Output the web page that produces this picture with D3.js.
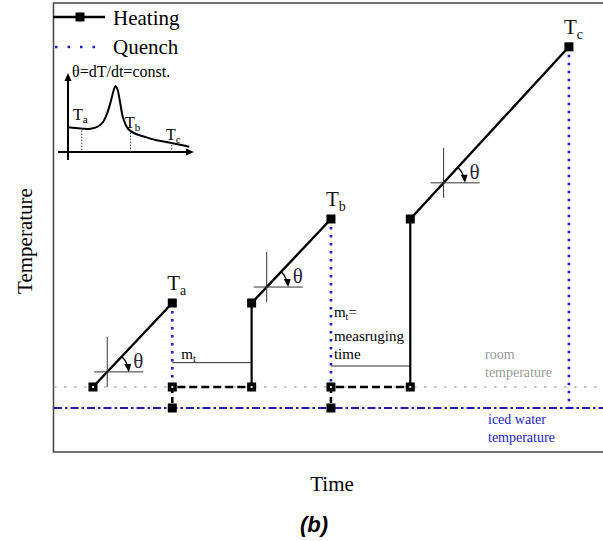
<!DOCTYPE html>
<html><head><meta charset="utf-8">
<script src="https://cdn.jsdelivr.net/npm/d3@7/dist/d3.min.js"></script>
<style>html,body{margin:0;padding:0;background:#fff;}svg{display:block;}</style>
</head><body>
<svg id="chart" width="603" height="541"></svg>
<script>
// ---- data ----
const heatStartT = [0.5, 2.5, 4.5];
const heatStartTemp = [25, 125, 225];
const heatEndT = [1.5, 3.5, 6.5];
const heatEndTemp = [125, 225, 430];
const peakNames = ["a", "b", "c"];
const roomTemp = 25;
const icedTemp = 0;
const mtLineTemp = [54, 50];
const crossFrac = [0.18, 0.19, 0.21];
// inset DSC-like curve
const insetT = [0, 6, 12, 18, 24, 28, 31, 34, 36.5, 38, 39.5, 41.5, 44, 48, 53, 60, 70, 83, 97];
const insetH = [33, 32, 31, 31, 34, 40, 50, 66, 82, 88, 84, 68, 46, 31, 25, 21, 16, 12, 7];
const insetMarks = [11, 50, 83];

const svg = d3.select("#chart");
const serif = "'Liberation Serif','Times New Roman',serif";
const x = d3.scaleLinear().domain([0, 7]).range([53.3, 608.6]);
const y = d3.scaleLinear().domain([0, 25]).range([408, 387]);

// frame
svg.append("rect").attr("x", 53.5).attr("y", 3).attr("width", 600).attr("height", 449)
  .attr("fill", "none").attr("stroke", "#444").attr("stroke-width", 1.5);

const line = (x1, y1, x2, y2) => svg.append("line").attr("x1", x1).attr("y1", y1).attr("x2", x2).attr("y2", y2);

// iced water line
line(54, y(icedTemp), 603, y(icedTemp)).attr("stroke", "#1c1cb0").attr("stroke-width", 2.2)
  .attr("stroke-dasharray", "8,3,2.5,3");
// room temperature line
line(54, y(roomTemp), 603, y(roomTemp)).attr("stroke", "#c4c4c4").attr("stroke-width", 2)
  .attr("stroke-dasharray", "2.5,7.5");

// thin mt lines
for (let i = 0; i < 2; i++) {
  line(x(heatEndT[i]), y(mtLineTemp[i]), x(heatStartT[i + 1]), y(mtLineTemp[i]))
    .attr("stroke", "#333").attr("stroke-width", 1);
}

// quench lines
for (let i = 0; i < 3; i++) {
  const bottom = i < 2 ? roomTemp : icedTemp;
  line(x(heatEndT[i]), y(heatEndTemp[i]), x(heatEndT[i]), y(bottom))
    .attr("stroke", "#1a1ad8").attr("stroke-width", 2.6).attr("stroke-dasharray", "2.5,5.5");
  if (i < 2) {
    line(x(heatEndT[i]), y(roomTemp), x(heatEndT[i]), y(icedTemp))
      .attr("stroke", "#000").attr("stroke-width", 2.5).attr("stroke-dasharray", "6,4");
  }
}
// waiting dashed + vertical reheat
for (let i = 0; i < 2; i++) {
  line(x(heatEndT[i]) + 5, y(roomTemp), x(heatStartT[i + 1]), y(roomTemp))
    .attr("stroke", "#000").attr("stroke-width", 2.6).attr("stroke-dasharray", "8,4");
  line(x(heatStartT[i + 1]), y(roomTemp), x(heatStartT[i + 1]), y(heatStartTemp[i + 1]))
    .attr("stroke", "#000").attr("stroke-width", 2.2);
}
// heating segments
for (let i = 0; i < 3; i++) {
  line(x(heatStartT[i]), y(heatStartTemp[i]), x(heatEndT[i]), y(heatEndTemp[i]))
    .attr("stroke", "#000").attr("stroke-width", 2.4);
}

// crosshairs with theta
for (let i = 0; i < 3; i++) {
  const f = crossFrac[i];
  const t = heatStartT[i] + f * (heatEndT[i] - heatStartT[i]);
  const T = heatStartTemp[i] + f * (heatEndTemp[i] - heatStartTemp[i]);
  const cx = x(t), cy = y(T);
  line(cx, cy - 35, cx, cy + 15).attr("stroke", "#333").attr("stroke-width", 1);
  line(cx - 13, cy, cx + 36, cy).attr("stroke", "#333").attr("stroke-width", 1);
  const ang = Math.atan2(y(heatStartTemp[i]) - y(heatEndTemp[i]), x(heatEndT[i]) - x(heatStartT[i]));
  const r = 21;
  const a0 = ang, a1 = 0.12;
  svg.append("path")
    .attr("d", `M${cx + r * Math.cos(a0)},${cy - r * Math.sin(a0)} A${r},${r} 0 0 1 ${cx + r * Math.cos(a1)},${cy - r * Math.sin(a1)}`)
    .attr("fill", "none").attr("stroke", "#000").attr("stroke-width", 1.4);
  const ex = cx + r, ey = cy;
  svg.append("path").attr("d", `M${ex - 4},${ey - 8} L${ex + 3},${ey - 8} L${ex + 0.5},${ey} Z`).attr("fill", "#000");
  svg.append("text").attr("x", cx + 26).attr("y", cy - 4).attr("font-family", serif)
    .attr("font-size", 21).attr("fill", "#2a2a3a").text("θ");
}

// markers
const marks = [];
for (let i = 0; i < 3; i++) {
  marks.push([heatStartT[i], heatStartTemp[i]], [heatEndT[i], heatEndTemp[i]]);
  if (i < 2) marks.push([heatEndT[i], roomTemp], [heatEndT[i], icedTemp], [heatStartT[i + 1], roomTemp]);
}
svg.selectAll("rect.mk").data(marks).join("rect").attr("class", "mk")
  .attr("x", d => x(d[0]) - 4.5).attr("y", d => y(d[1]) - 4.5).attr("width", 9).attr("height", 9).attr("fill", "#000");
// light centres where the room line passes over the squares
svg.selectAll("rect.mc").data(marks.filter(d => d[1] === roomTemp)).join("rect").attr("class", "mc")
  .attr("x", d => x(d[0]) - 1).attr("y", d => y(d[1]) - 1).attr("width", 2).attr("height", 2).attr("fill", "#ddd");

// peak labels
for (let i = 0; i < 3; i++) {
  const tx = svg.append("text").attr("x", x(heatEndT[i]) - 5).attr("y", y(heatEndTemp[i]) - 13)
    .attr("font-family", serif).attr("font-size", 21).attr("fill", "#111");
  tx.append("tspan").text("T");
  tx.append("tspan").attr("font-size", 14).attr("dy", 5).text(peakNames[i]);
}

// mt texts
const t1 = svg.append("text").attr("x", x(heatEndT[0]) + 9).attr("y", 359).attr("font-family", serif).attr("font-size", 15);
t1.append("tspan").text("m"); t1.append("tspan").attr("font-size", 10).attr("dy", 3).text("t");
const t2 = svg.append("text").attr("x", x(heatEndT[1]) + 3).attr("y", 317).attr("font-family", serif).attr("font-size", 15);
t2.append("tspan").text("m"); t2.append("tspan").attr("font-size", 10).attr("dy", 3).text("t");
t2.append("tspan").attr("dy", -3).text("=");
svg.append("text").attr("x", x(heatEndT[1]) + 3).attr("y", 341).attr("font-family", serif).attr("font-size", 15).text("measruging");
svg.append("text").attr("x", x(heatEndT[1]) + 3).attr("y", 359).attr("font-family", serif).attr("font-size", 15).text("time");

// room / iced labels
svg.append("text").attr("x", 485).attr("y", 359).attr("font-family", serif).attr("font-size", 14).attr("fill", "#9a9a9a").text("room");
svg.append("text").attr("x", 485).attr("y", 377).attr("font-family", serif).attr("font-size", 14).attr("fill", "#9a9a9a").text("temperature");
svg.append("text").attr("x", 488).attr("y", 424).attr("font-family", serif).attr("font-size", 14).attr("fill", "#2323c8").text("iced water");
svg.append("text").attr("x", 488).attr("y", 442).attr("font-family", serif).attr("font-size", 14).attr("fill", "#2323c8").text("temperature");

// legend
line(53, 17, 105, 17).attr("stroke", "#000").attr("stroke-width", 2.4);
svg.append("rect").attr("x", 75.5).attr("y", 12.5).attr("width", 9).attr("height", 9).attr("fill", "#000");
svg.append("text").attr("x", 113).attr("y", 25).attr("font-family", serif).attr("font-size", 21).text("Heating");
line(55, 47, 102, 47).attr("stroke", "#1a1ad8").attr("stroke-width", 2.6).attr("stroke-dasharray", "2.5,10");
svg.append("text").attr("x", 113).attr("y", 54).attr("font-family", serif).attr("font-size", 21).text("Quench");

// inset
const ix = d3.scaleLinear().domain([0, 100]).range([68, 193]);
const iy = d3.scaleLinear().domain([0, 100]).range([152, 77]);
svg.append("text").attr("x", 72).attr("y", 77).attr("font-family", serif).attr("font-size", 16).text("θ=dT/dt=const.");
line(ix(0), 160, ix(0), 80).attr("stroke", "#000").attr("stroke-width", 2);
svg.append("path").attr("d", `M${ix(0) - 3.5},${81} L${ix(0) + 3.5},${81} L${ix(0)},${73} Z`).attr("fill", "#000");
line(58, iy(0), 186, iy(0)).attr("stroke", "#000").attr("stroke-width", 2);
svg.append("path").attr("d", `M186,${iy(0) - 3.5} L186,${iy(0) + 3.5} L194,${iy(0)} Z`).attr("fill", "#000");
const curve = d3.line().x((d, i) => ix(insetT[i])).y(d => iy(d)).curve(d3.curveCatmullRom);
svg.append("path").datum(insetH).attr("d", curve).attr("fill", "none").attr("stroke", "#000").attr("stroke-width", 2);
const interp = d3.scaleLinear().domain(insetT).range(insetH);
insetMarks.forEach(m => {
  line(ix(m), iy(interp(m)) + 2, ix(m), iy(0)).attr("stroke", "#444").attr("stroke-width", 1).attr("stroke-dasharray", "1.5,1.5");
});
const insetLab = [[73, 120], [125, 128], [166, 140]];
insetLab.forEach((p, i) => {
  const tx = svg.append("text").attr("x", p[0]).attr("y", p[1]).attr("font-family", serif).attr("font-size", 16);
  tx.append("tspan").text("T");
  tx.append("tspan").attr("font-size", 11).attr("dy", 3).text(peakNames[i]);
});

// axis titles
svg.append("text").attr("transform", "translate(32,241) rotate(-90)").attr("text-anchor", "middle")
  .attr("font-family", serif).attr("font-size", 21).text("Temperature");
svg.append("text").attr("x", 332).attr("y", 491).attr("text-anchor", "middle")
  .attr("font-family", serif).attr("font-size", 21).text("Time");
svg.append("text").attr("x", 314).attr("y", 532).attr("text-anchor", "middle")
  .attr("font-family", "'Liberation Sans',Arial,sans-serif").attr("font-size", 22)
  .attr("font-weight", "bold").attr("font-style", "italic").text("(b)");
</script>
</body></html>
